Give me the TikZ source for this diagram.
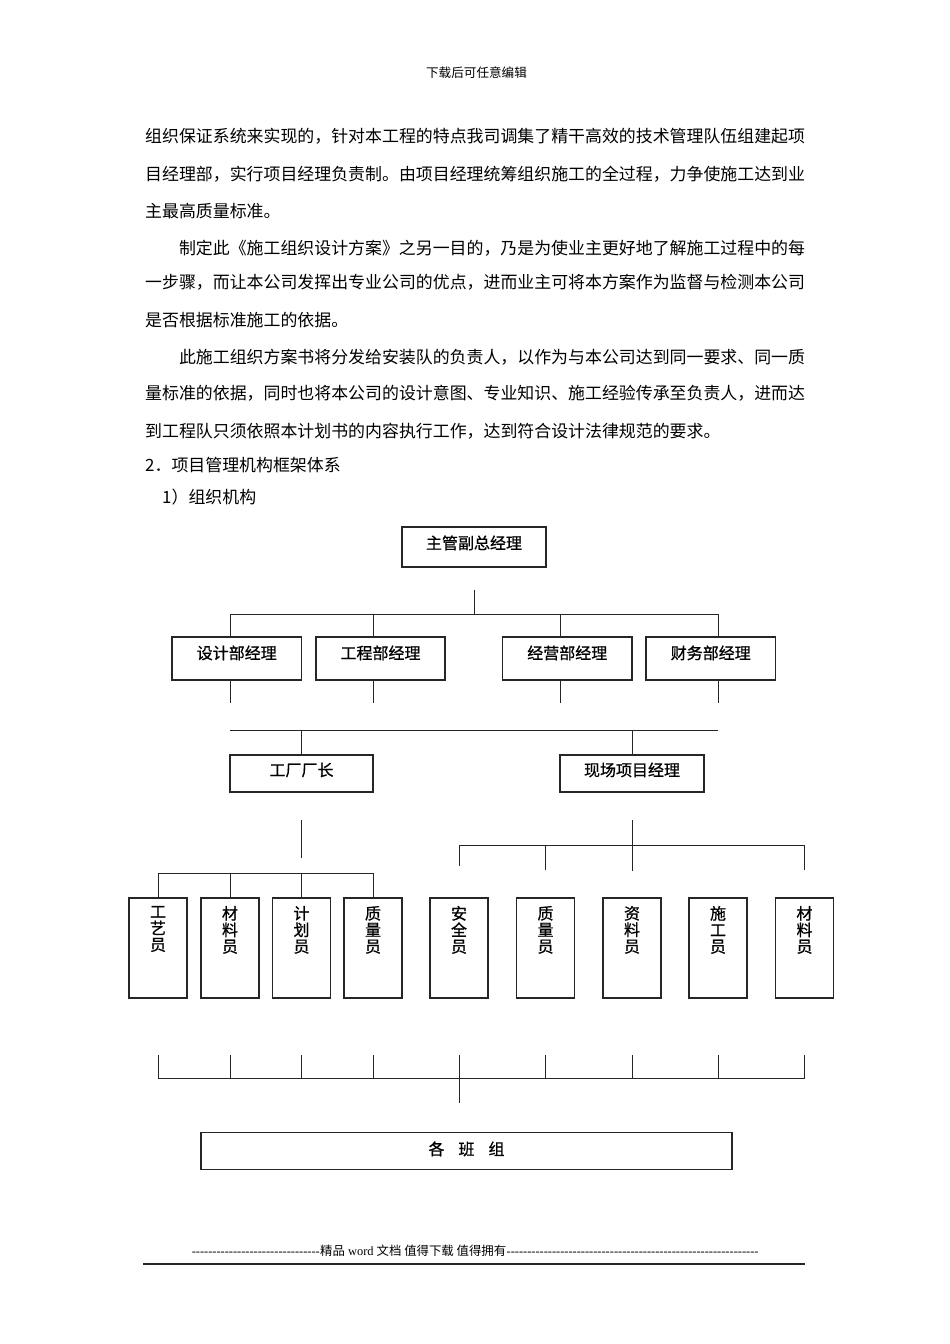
\documentclass[tikz,border=0pt]{standalone}
\usepackage{fontspec}
\setmainfont{Liberation Serif}[Ligatures=TeXOff]
\newfontfamily\cjk{Noto Sans CJK SC}
\newfontfamily\cjkb{Noto Sans CJK SC}[FakeBold=0.8]
\newcommand\vtxt[1]{\parbox[c][84pt][t]{50pt}{\centering #1}}
\tikzset{
  ln/.style={line width=1pt, draw=black!85},
  hb/.style={draw=black!85, line width=1.2pt, inner sep=0pt, text height=12pt,
    font=\cjkb\fontsize{16}{16}\selectfont},
  vb/.style={draw=black!85, line width=1.2pt, inner sep=0pt, minimum width=58pt,
    minimum height=100pt, font=\cjkb\fontsize{16}{16.5}\selectfont},
  body/.style={anchor=base west, inner sep=0pt, font=\cjk\fontsize{16.92}{20}\selectfont},
  foot/.style={anchor=base west, inner sep=0pt, font=\fontsize{12.4}{14}\selectfont}
}
\begin{document}
\begin{tikzpicture}[x=1pt,y=-1pt]
\fill[white] (0,0) rectangle (950,1344);
\useasboundingbox (0,0) rectangle (950,1344);

% header
\node[anchor=base, inner sep=0pt, font=\cjk\fontsize{12.6}{14}\selectfont] (hdr) at (476.5,77.8) {下载后可任意编辑};

% body text
\node[body] (l1) at (145,142.4) {组织保证系统来实现的，针对本工程的特点我司调集了精干高效的技术管理队伍组建起项};
\node[body] (l2) at (145,180.4) {目经理部，实行项目经理负责制。由项目经理统筹组织施工的全过程，力争使施工达到业};
\node[body] (l3) at (145,217.4) {主最高质量标准。};
\node[body] (l4) at (178.8,254.4) {制定此《施工组织设计方案》之另一目的，乃是为使业主更好地了解施工过程中的每};
\node[body] (l5) at (145,288.4) {一步骤，而让本公司发挥出专业公司的优点，进而业主可将本方案作为监督与检测本公司};
\node[body] (l6) at (145,326.4) {是否根据标准施工的依据。};
\node[body] (l7) at (178.8,363.4) {此施工组织方案书将分发给安装队的负责人，以作为与本公司达到同一要求、同一质};
\node[body] (l8) at (145,399.4) {量标准的依据，同时也将本公司的设计意图、专业知识、施工经验传承至负责人，进而达};
\node[body] (l9) at (145,437.4) {到工程队只须依照本计划书的内容执行工作，达到符合设计法律规范的要求。};
\node[body] (l10) at (145,471.4) {2．项目管理机构框架体系};
\node[body] (l11) at (162,503.4) {1）组织机构};

% level 1
\node[hb, minimum width=144pt, minimum height=40pt, text depth=8pt] (top) at (474,547) {主管副总经理};
% level 2
\node[hb, minimum width=129.5pt, minimum height=43pt, text depth=11pt] (d1) at (236.75,658.5) {设计部经理};
\node[hb, minimum width=129pt, minimum height=43pt, text depth=11pt] (d2) at (380.5,658.5) {工程部经理};
\node[hb, minimum width=129.5pt, minimum height=43pt, text depth=11pt] (d3) at (567.25,658.5) {经营部经理};
\node[hb, minimum width=129.5pt, minimum height=43pt, text depth=11pt] (d4) at (710.75,658.5) {财务部经理};
% level 3
\node[hb, minimum width=143pt, minimum height=37pt, text depth=7pt] (f1) at (301.5,773.5) {工厂厂长};
\node[hb, minimum width=144pt, minimum height=37pt, text depth=7pt] (f2) at (632,773.5) {现场项目经理};
% level 4
\node[vb] (s1) at (158,948) {\vtxt{工\\艺\\员}};
\node[vb] (s2) at (230,948) {\vtxt{材\\料\\员}};
\node[vb] (s3) at (301.5,948) {\vtxt{计\\划\\员}};
\node[vb] (s4) at (373,948) {\vtxt{质\\量\\员}};
\node[vb] (s5) at (459,948) {\vtxt{安\\全\\员}};
\node[vb] (s6) at (545.5,948) {\vtxt{质\\量\\员}};
\node[vb] (s7) at (632,948) {\vtxt{资\\料\\员}};
\node[vb] (s8) at (718,948) {\vtxt{施\\工\\员}};
\node[vb] (s9) at (804.5,948) {\vtxt{材\\料\\员}};
% level 5
\node[hb, minimum width=531pt, minimum height=36.5pt, text depth=4pt] (team) at (466.5,1151) {各\hspace{14pt}班\hspace{14pt}组};

% connectors top -> level 2
\coordinate (t1) at (474,590);
\coordinate (barAL) at (230,614);
\coordinate (barAR) at (718,614);
\coordinate (xa2) at (373,614);
\coordinate (xa3) at (560,614);
\draw[ln] (t1) -- (t1 |- barAL);
\draw[ln] (barAL) -- (barAR);
\draw[ln] (barAL) -- (barAL |- d1.north);
\draw[ln] (xa2) -- (xa2 |- d2.north);
\draw[ln] (xa3) -- (xa3 |- d3.north);
\draw[ln] (barAR) -- (barAR |- d4.north);
% stubs below level 2
\draw[ln] (d1.south -| barAL) -- ++(0,22);
\draw[ln] (d2.south -| xa2) -- ++(0,22);
\draw[ln] (d3.south -| xa3) -- ++(0,22);
\draw[ln] (d4.south -| barAR) -- ++(0,22);
% bar -> level 3
\coordinate (barBL) at (230,730);
\coordinate (barBR) at (718,730);
\draw[ln] (barBL) -- (barBR);
\draw[ln] (f1.north |- barBL) -- (f1.north);
\draw[ln] (f2.north |- barBL) -- (f2.north);

% left group
\coordinate (g1) at (301.5,820);
\coordinate (g1e) at (301.5,858);
\coordinate (barC) at (0,873);
\draw[ln] (g1) -- (g1e);
\draw[ln] (s1.north |- barC) -- (s4.north |- barC);
\draw[ln] (s1.north |- barC) -- (s1.north);
\draw[ln] (s2.north |- barC) -- (s2.north);
\draw[ln] (s3.north |- barC) -- (s3.north);
\draw[ln] (s4.north |- barC) -- (s4.north);

% right group
\coordinate (g2) at (632,820);
\coordinate (barD) at (0,845);
\draw[ln] (g2) -- (632,871);
\draw[ln] (s5.north |- barD) -- (s9.north |- barD);
\draw[ln] (s5.north |- barD) -- ++(0,21);
\draw[ln] (s6.north |- barD) -- ++(0,25);
\draw[ln] (s9.north |- barD) -- ++(0,25);

% bottom collector
\coordinate (barE) at (0,1078);
\foreach \s in {s1,s2,s3,s4,s5,s6,s7,s8,s9}{
  \draw[ln] (\s.south |- 0,1055) -- (\s.south |- barE);
}
\draw[ln] (s1.south |- barE) -- (s9.south |- barE);
\draw[ln] (s5.south |- barE) -- (s5.south |- 0,1103);

% footer
\node[foot, anchor=base east] (fl) at (320,1255) {-------------------------------};
\node[foot] (fm) at (fl.base east) {{\cjk 精品} word {\cjk 文档 值得下载 值得拥有}};
\node[foot] (fr) at (fm.base east) {-------------------------------------------------------------};
\coordinate (ul1) at (143,1264);
\coordinate (ul2) at (805,1264);
\draw[line width=1.5pt, black!85] (ul1) -- (ul2);
\end{tikzpicture}
\end{document}
